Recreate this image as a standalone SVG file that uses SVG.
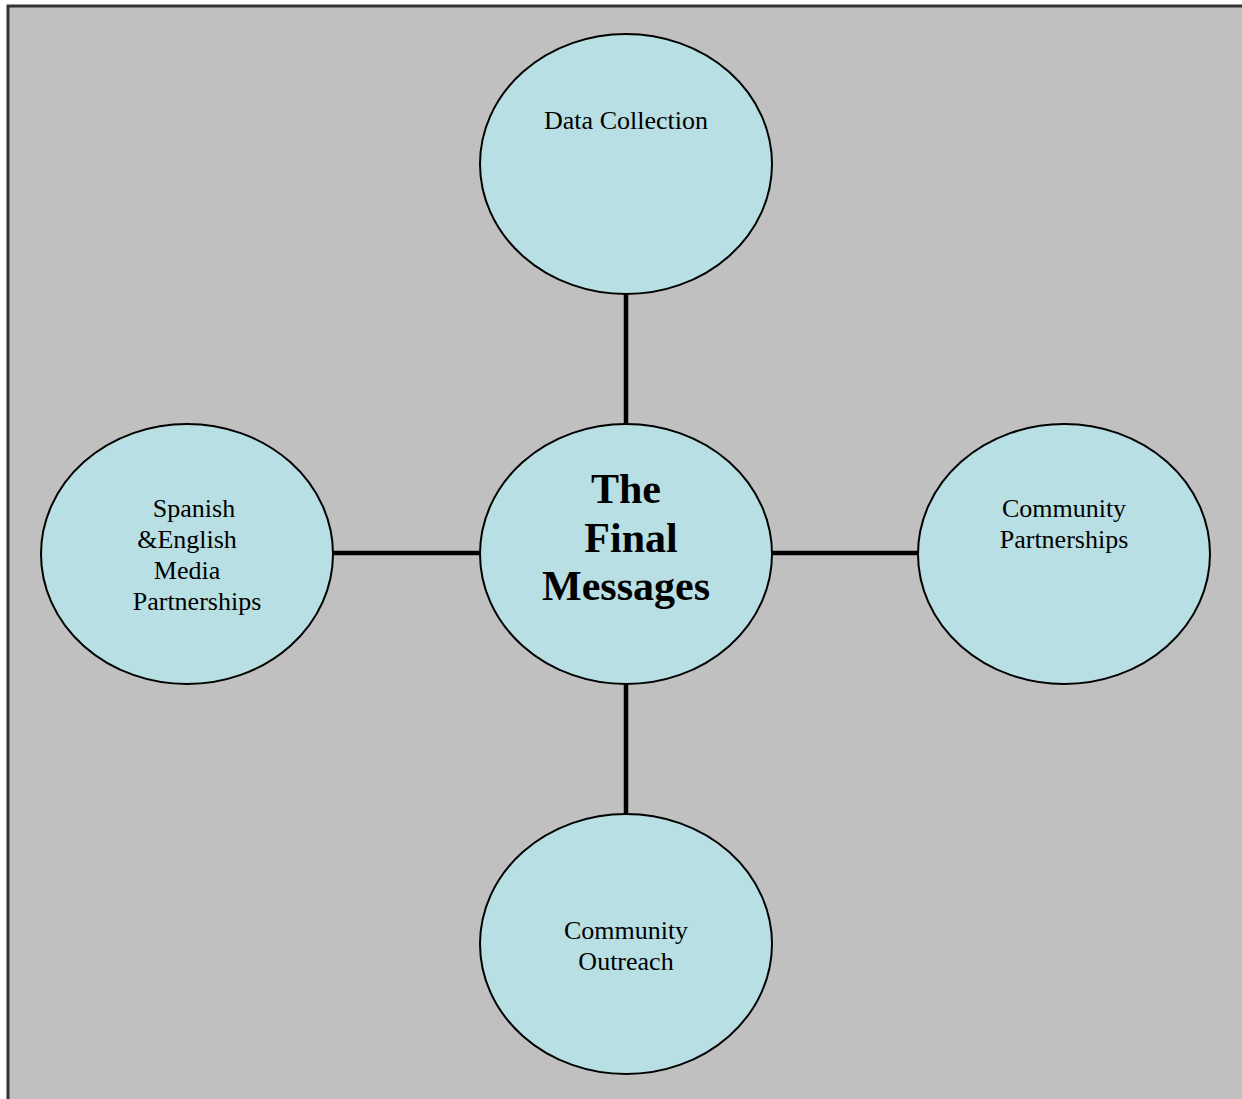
<svg xmlns="http://www.w3.org/2000/svg" width="1242" height="1099" viewBox="0 0 1242 1099">
<style>
.node{fill:#b8dfe3;stroke:#000;stroke-width:2}
.lbl{font-family:"Liberation Serif","Times New Roman",serif;font-size:26px;fill:#000;text-anchor:middle}
.big{font-family:"Liberation Serif","Times New Roman",serif;font-size:42px;font-weight:bold;fill:#000;text-anchor:middle}
.conn{stroke:#000;stroke-width:4.5;fill:none}
</style>
<rect x="0" y="0" width="1242" height="1099" fill="#fff"/>
<rect x="8" y="6" width="1240" height="1100" fill="#c0c0c0" stroke="#333" stroke-width="3"/>
<g id="connectors">
<line class="conn" x1="626" y1="294" x2="626" y2="424"/>
<line class="conn" x1="626" y1="684" x2="626" y2="814"/>
<line class="conn" x1="333" y1="553" x2="480" y2="553"/>
<line class="conn" x1="772" y1="553" x2="918" y2="553"/>
</g>
<g id="data-collection">
<ellipse class="node" cx="626" cy="164" rx="146" ry="130"/>
<text class="lbl" x="626" y="129">Data Collection</text>
</g>
<g id="final-messages">
<ellipse class="node" cx="626" cy="554" rx="146" ry="130"/>
<text class="big" x="626" y="503">The</text>
<text class="big" x="631" y="552">Final</text>
<text class="big" x="626" y="600">Messages</text>
</g>
<g id="media-partnerships">
<ellipse class="node" cx="187" cy="554" rx="146" ry="130"/>
<text class="lbl" x="194" y="517">Spanish</text>
<text class="lbl" x="187" y="548">&amp;English</text>
<text class="lbl" x="187" y="579">Media</text>
<text class="lbl" x="197" y="610">Partnerships</text>
</g>
<g id="community-partnerships">
<ellipse class="node" cx="1064" cy="554" rx="146" ry="130"/>
<text class="lbl" x="1064" y="517">Community</text>
<text class="lbl" x="1064" y="548">Partnerships</text>
</g>
<g id="community-outreach">
<ellipse class="node" cx="626" cy="944" rx="146" ry="130"/>
<text class="lbl" x="626" y="939">Community</text>
<text class="lbl" x="626" y="970">Outreach</text>
</g>
</svg>
